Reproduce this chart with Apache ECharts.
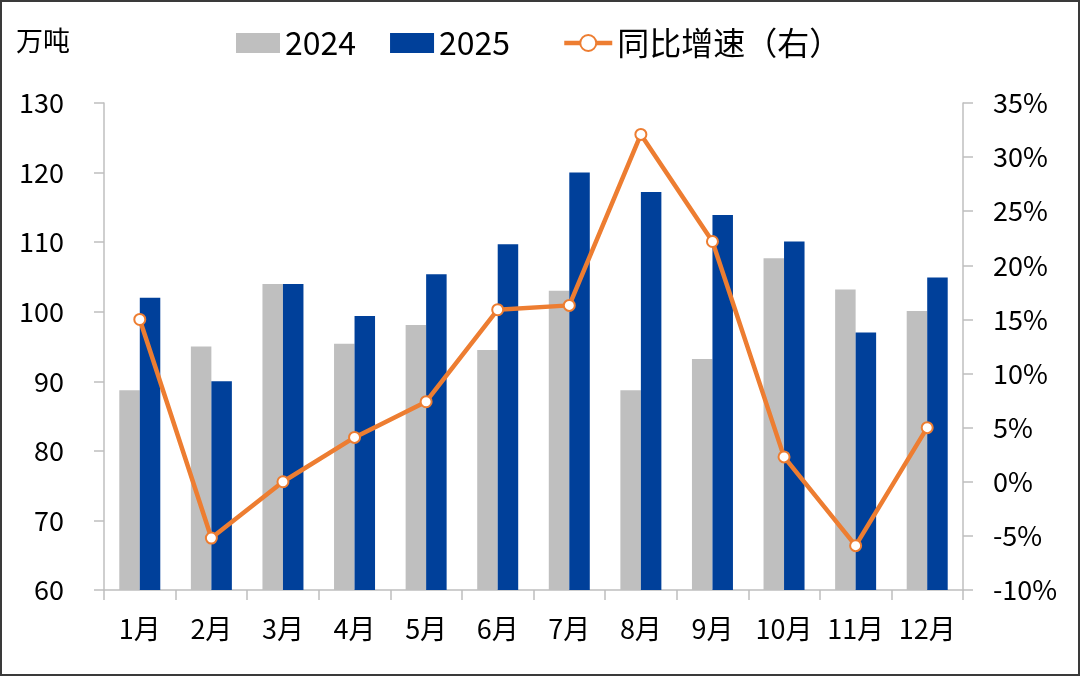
<!DOCTYPE html>
<html>
<head>
<meta charset="utf-8">
<script src="https://cdn.jsdelivr.net/npm/echarts@6/dist/echarts.min.js"></script>
<style>
html,body{margin:0;padding:0;background:#fff;}
#wrap{position:relative;width:1080px;height:676px;}
#chart{width:1080px;height:676px;}
#frame{position:absolute;left:0;top:0;width:1080px;height:676px;box-sizing:border-box;border:2px solid #3a3a3a;pointer-events:none;}
</style>
</head>
<body>
<div id="wrap"><div id="chart"></div><div id="frame"></div></div>
<script>
var categories = ['1月','2月','3月','4月','5月','6月','7月','8月','9月','10月','11月','12月'];
var values2024 = [88.7, 95.0, 104.0, 95.4, 98.1, 94.5, 103.0, 88.7, 93.2, 107.7, 103.2, 100.1];
var values2025 = [102.0, 90.0, 104.0, 99.4, 105.4, 109.7, 120.0, 117.2, 113.9, 110.1, 97.0, 104.9];
var growth = [15.0, -5.2, 0.0, 4.1, 7.4, 15.9, 16.3, 32.1, 22.2, 2.3, -5.9, 5.0];
var seriesNames = ['2024', '2025', '同比增速（右）'];
var unitLabel = '万吨';

var FONT = '"Noto Sans CJK SC", "Noto Sans", sans-serif';
var chart = echarts.init(document.getElementById('chart'));
var axisColor = '#BFBFBF';
var legendText = {fontSize: 32, fontFamily: FONT, color: '#000'};
chart.setOption({
  animation: false,
  textStyle: {fontFamily: FONT, color: '#000'},
  graphic: [{
    type: 'text', left: 16, top: 27,
    style: {text: unitLabel, font: '27px ' + FONT, fill: '#000'}
  }],
  legend: [{
    top: 22, left: 231,
    itemWidth: 44, itemHeight: 20, itemGap: 34,
    textStyle: legendText,
    data: [
      {name: seriesNames[0], icon: 'rect'},
      {name: seriesNames[1], icon: 'rect'}
    ]
  }, {
    top: 22, left: 557,
    itemWidth: 48, itemHeight: 20,
    textStyle: legendText,
    lineStyle: {width: 4.5, color: '#ED7D31'},
    itemStyle: {color: '#fff', borderColor: '#ED7D31', borderWidth: 2},
    data: [{name: seriesNames[2]}]
  }],
  grid: {left: 104, right: 117, top: 103, bottom: 86, containLabel: false},
  xAxis: {
    type: 'category', data: categories, boundaryGap: true,
    axisLine: {onZero: false, lineStyle: {color: axisColor, width: 1.5}},
    axisTick: {show: true, interval: 0, length: 10, lineStyle: {color: axisColor, width: 1.5}},
    axisLabel: {interval: 0, fontSize: 27, color: '#000', margin: 25, fontFamily: FONT}
  },
  yAxis: [{
    type: 'value', min: 60, max: 130, interval: 10,
    axisLine: {show: true, lineStyle: {color: axisColor, width: 1.5}},
    axisTick: {show: true, length: 10, lineStyle: {color: axisColor, width: 1.5}},
    splitLine: {show: false},
    axisLabel: {fontSize: 27, color: '#000', margin: 40, fontFamily: FONT}
  }, {
    type: 'value', min: -10, max: 35, interval: 5,
    axisLine: {show: true, lineStyle: {color: axisColor, width: 1.5}},
    axisTick: {show: true, length: 10, lineStyle: {color: axisColor, width: 1.5}},
    splitLine: {show: false},
    axisLabel: {fontSize: 27, color: '#000', margin: 30, formatter: '{value}%', fontFamily: FONT}
  }],
  series: [{
    name: seriesNames[0], type: 'bar', data: values2024,
    barWidth: 20.5, barGap: '0%',
    itemStyle: {color: '#BFBFBF'}
  }, {
    name: seriesNames[1], type: 'bar', data: values2025,
    barWidth: 20.5, barGap: '0%',
    itemStyle: {color: '#00409A'}
  }, {
    name: seriesNames[2], type: 'line', yAxisIndex: 1, data: growth,
    symbol: 'circle', symbolSize: 11,
    lineStyle: {color: '#ED7D31', width: 4.5},
    itemStyle: {color: '#fff', borderColor: '#ED7D31', borderWidth: 2},
    z: 5
  }]
});
</script>
</body>
</html>
